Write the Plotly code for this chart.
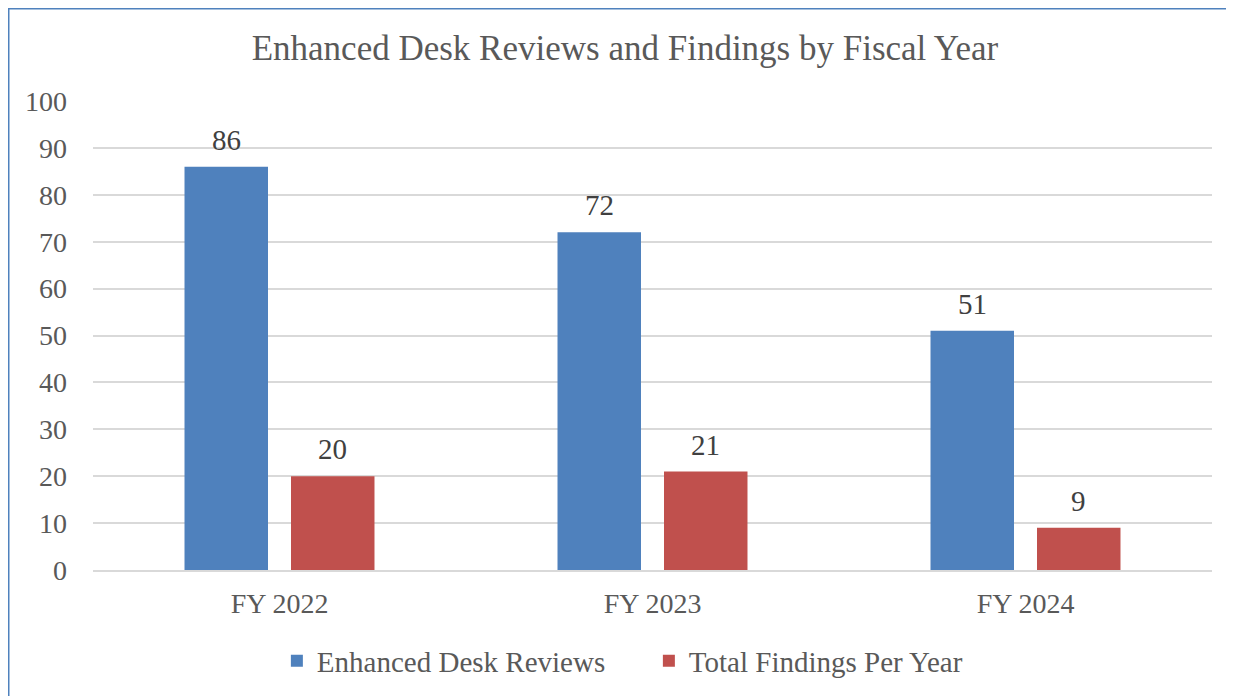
import plotly.graph_objects as go

categories = ["FY 2022", "FY 2023", "FY 2024"]
reviews = [86, 72, 51]
findings = [20, 21, 9]
series_names = ["Enhanced Desk Reviews", "Total Findings Per Year"]
y_ticks = [0, 10, 20, 30, 40, 50, 60, 70, 80, 90, 100]

FONT = "Liberation Serif, Times New Roman, serif"
TXT = "#595959"
COLORS = ["#4F81BD", "#C0504D"]
BARGAP, GROUPGAP = 0.429, 0.216

# page has an 8px body margin; figure coords = page coords - 8
OFF = 8
W, H = 1234, 696
L, T = 93 - OFF, 101 - OFF
B = H - (570 - OFF)
R = W - (1212 - OFF)
pw, ph = W - L - R, H - T - B

def px_x(p):
    return (p - OFF - L) / pw

def px_y(p):
    return (H - B - (p - OFF)) / ph

fig = go.Figure()
series = [reviews, findings]
for name, vals, col in zip(series_names, series, COLORS):
    fig.add_trace(go.Bar(x=categories, y=vals, name=name,
                         marker=dict(color=col, line=dict(width=0))))

# value labels above each bar (offset within group from bar layout params)
cat_w = pw / len(categories)
slot = (1 - BARGAP) * cat_w / 2
annotations = []
for i, vals in enumerate(series):
    shift = (i - 0.5) * slot
    for c, v in zip(categories, vals):
        annotations.append(dict(x=c, y=v, xref="x", yref="y", text=str(v),
                                showarrow=False, xshift=shift, yshift=27,
                                yanchor="middle", xanchor="center",
                                font=dict(family=FONT, size=29, color="#404040")))

fig.update_layout(
    width=W, height=H,
    margin=dict(l=L, r=R, t=T, b=B),
    paper_bgcolor="white", plot_bgcolor="white",
    barmode="group", bargap=BARGAP, bargroupgap=GROUPGAP,
    font=dict(family=FONT, color=TXT, size=28),
    title=dict(text="Enhanced Desk Reviews and Findings by Fiscal Year",
               x=0.5, xanchor="center", y=1 - (48 - OFF) / H, yanchor="middle",
               font=dict(family=FONT, size=35, color=TXT)),
    xaxis=dict(showgrid=False, showline=True, linecolor="#D9D9D9", linewidth=1.5,
               ticks="", ticklabelstandoff=8,
               tickfont=dict(family=FONT, size=28, color=TXT)),
    yaxis=dict(range=[0, 100], tickvals=y_ticks, showgrid=True, gridcolor="#D9D9D9",
               gridwidth=1.5, zeroline=False, showline=False, ticks="",
               ticklabelstandoff=25,
               tickfont=dict(family=FONT, size=28, color=TXT)),
    legend=dict(orientation="h", x=0.5 - 4 / W, xanchor="center", y=px_y(661), yanchor="middle",
                font=dict(family=FONT, size=29, color=TXT), itemwidth=30,
                entrywidth=327, entrywidthmode="pixels",
                traceorder="normal"),
    annotations=annotations,
    shapes=[
        dict(type="line", xref="paper", yref="paper",
             x0=px_x(8), x1=px_x(1250), y0=px_y(8.5), y1=px_y(8.5),
             line=dict(color="#4F81BD", width=2)),
        dict(type="line", xref="paper", yref="paper",
             x0=px_x(8.5), x1=px_x(8.5), y0=px_y(8.5), y1=px_y(720),
             line=dict(color="#4F81BD", width=2)),
    ],
)

fig.write_html("out.html")
